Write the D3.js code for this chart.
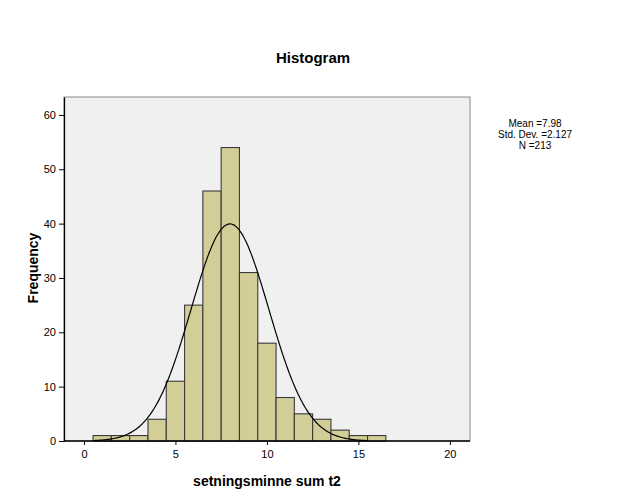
<!DOCTYPE html>
<html><head><meta charset="utf-8">
<script src="https://cdn.jsdelivr.net/npm/d3@7"></script>
<style>body{margin:0;background:#fff}text{font-family:"Liberation Sans",Arial,sans-serif}</style>
</head><body><svg id="c" width="627" height="502"></svg>
<script>
const binCenters = [1,2,3,4,5,6,7,8,9,10,11,12,13,14,15,16];
const frequencies = [1,1,1,4,11,25,46,54,31,18,8,5,4,2,1,1];
const xTicks = [0,5,10,15,20];
const yTicks = [0,10,20,30,40,50,60];
const statLabels = ["Mean =7.98","Std. Dev. =2.127","N =213"];
const mean = 7.98, sd = 2.127, n = 213, binWidth = 1;

const svg = d3.select("#c");
const L=64,R=470,T=97,B=441;
const x = d3.scaleLinear().domain([-1.09,21.1]).range([L,R]);
const y = d3.scaleLinear().domain([0,63.3]).range([B,T]);

svg.append("rect").attr("x",L).attr("y",T).attr("width",R-L).attr("height",B-T)
  .attr("fill","#f0f0f0").attr("stroke","#8a8a8a").attr("stroke-width",1);

svg.selectAll("rect.bar").data(binCenters).enter().append("rect").attr("class","bar")
  .attr("x",(d)=>x(d-binWidth/2)).attr("width",(d)=>x(d+binWidth/2)-x(d-binWidth/2))
  .attr("y",(d,i)=>y(frequencies[i])).attr("height",(d,i)=>B-y(frequencies[i]))
  .attr("fill","#d3ce97").attr("stroke","#3a3a3a").attr("stroke-width",1.1);

// fitted normal curve from the displayed statistics
const pts = d3.range(0.5,15.51,0.05).map(v=>[v, n*binWidth/(sd*Math.sqrt(2*Math.PI))*Math.exp(-0.5*((v-mean)/sd)**2)]);
svg.append("path").datum(pts).attr("fill","none").attr("stroke","#000").attr("stroke-width",1.2)
  .attr("d",d3.line().x(d=>x(d[0])).y(d=>y(d[1])).curve(d3.curveBasis));

const xa = svg.append("g").attr("transform",`translate(0,${B})`)
  .call(d3.axisBottom(x).tickValues(xTicks).tickSize(4).tickSizeOuter(0));
const ya = svg.append("g").attr("transform",`translate(${L},0)`)
  .call(d3.axisLeft(y).tickValues(yTicks).tickSize(5).tickSizeOuter(0));
[xa,ya].forEach(a=>{a.select(".domain").attr("stroke","#000").attr("stroke-width",1.3);
  a.selectAll(".tick line").attr("stroke","#000");
  a.selectAll(".tick text").attr("font-size",11).attr("fill","#000").attr("font-family","Liberation Sans, Arial, sans-serif");});
xa.select(".domain").attr("d",`M${L},0H${R}`);
xa.selectAll(".tick text").attr("dy","0.9em");

svg.append("text").attr("x",313).attr("y",63).attr("text-anchor","middle")
  .attr("font-size",15).attr("font-weight","bold").text("Histogram");
svg.append("text").attr("x",267).attr("y",486).attr("text-anchor","middle")
  .attr("font-size",14).attr("font-weight","bold").text("setningsminne sum t2");
svg.append("text").attr("transform","translate(38,268) rotate(-90)").attr("text-anchor","middle")
  .attr("font-size",14).attr("font-weight","bold").text("Frequency");
svg.selectAll("text.stat").data(statLabels).enter().append("text").attr("class","stat")
  .attr("x",535).attr("y",(d,i)=>127+i*11).attr("text-anchor","middle").attr("font-size",10).text(d=>d);
</script></body></html>
